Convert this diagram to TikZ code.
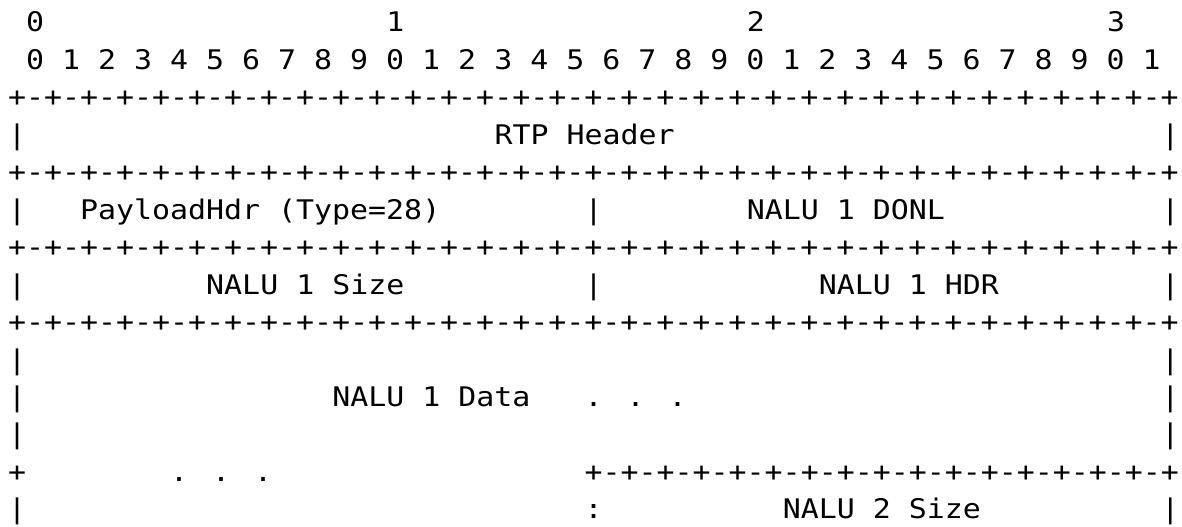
\documentclass[tikz,border=0pt]{standalone}
\usepackage{fontspec}
\newfontfamily\monofnt[FakeStretch=1.108]{DejaVu Sans Mono}
\tikzset{
  txt/.style={anchor=base west, inner sep=0pt, outer sep=0pt,
              font={\fontsize{27pt}{30pt}\selectfont\monofnt}, text=black}
}
\newcommand{\borderline}{+-+-+-+-+-+-+-+-+-+-+-+-+-+-+-+-+-+-+-+-+-+-+-+-+-+-+-+-+-+-+-+-+}
\begin{document}
\begin{tikzpicture}[x=18.02pt, y=-37.48pt]
\useasboundingbox[fill=white] (-0.444,-0.8458) rectangle (65.15,13.215);
% row 0: byte markers
\node[txt] (h0) at (1,0) {0};
\node[txt] (h1) at (21,0) {1};
\node[txt] (h2) at (41,0) {2};
\node[txt] (h3) at (61,0) {3};
% row 1: bit numbers
\node[txt] (bits) at (1,1) {0 1 2 3 4 5 6 7 8 9 0 1 2 3 4 5 6 7 8 9 0 1 2 3 4 5 6 7 8 9 0 1};
% row 2
\node[txt] (b2) at (0,2) {\borderline};
% row 3
\node[txt] (l3) at (0,3) {|};
\node[txt] (rtp) at (27,3) {RTP Header};
\node[txt] (r3) at (64,3) {|};
% row 4
\node[txt] (b4) at (0,4) {\borderline};
% row 5
\node[txt] (l5) at (0,5) {|};
\node[txt] (phdr) at (4,5) {PayloadHdr (Type=28)};
\node[txt] (m5) at (32,5) {|};
\node[txt] (donl) at (41,5) {NALU 1 DONL};
\node[txt] (r5) at (64,5) {|};
% row 6
\node[txt] (b6) at (0,6) {\borderline};
% row 7
\node[txt] (l7) at (0,7) {|};
\node[txt] (size1) at (11,7) {NALU 1 Size};
\node[txt] (m7) at (32,7) {|};
\node[txt] (hdr1) at (45,7) {NALU 1 HDR};
\node[txt] (r7) at (64,7) {|};
% row 8
\node[txt] (b8) at (0,8) {\borderline};
% row 9
\node[txt] (l9) at (0,9) {|};
\node[txt] (r9) at (64,9) {|};
% row 10
\node[txt] (l10) at (0,10) {|};
\node[txt] (data1) at (18,10) {NALU 1 Data};
\node[txt] (dots10) at (32,10) {. . .};
\node[txt] (r10) at (64,10) {|};
% row 11
\node[txt] (l11) at (0,11) {|};
\node[txt] (r11) at (64,11) {|};
% row 12
\node[txt] (l12) at (0,12) {+};
\node[txt] (dots12) at (9,12) {. . .};
\node[txt] (b12) at (32,12) {+-+-+-+-+-+-+-+-+-+-+-+-+-+-+-+-+};
% row 13
\node[txt] (l13) at (0,13) {|};
\node[txt] (colon13) at (32,13) {:};
\node[txt] (size2) at (43,13) {NALU 2 Size};
\node[txt] (r13) at (64,13) {|};
\end{tikzpicture}
\end{document}
